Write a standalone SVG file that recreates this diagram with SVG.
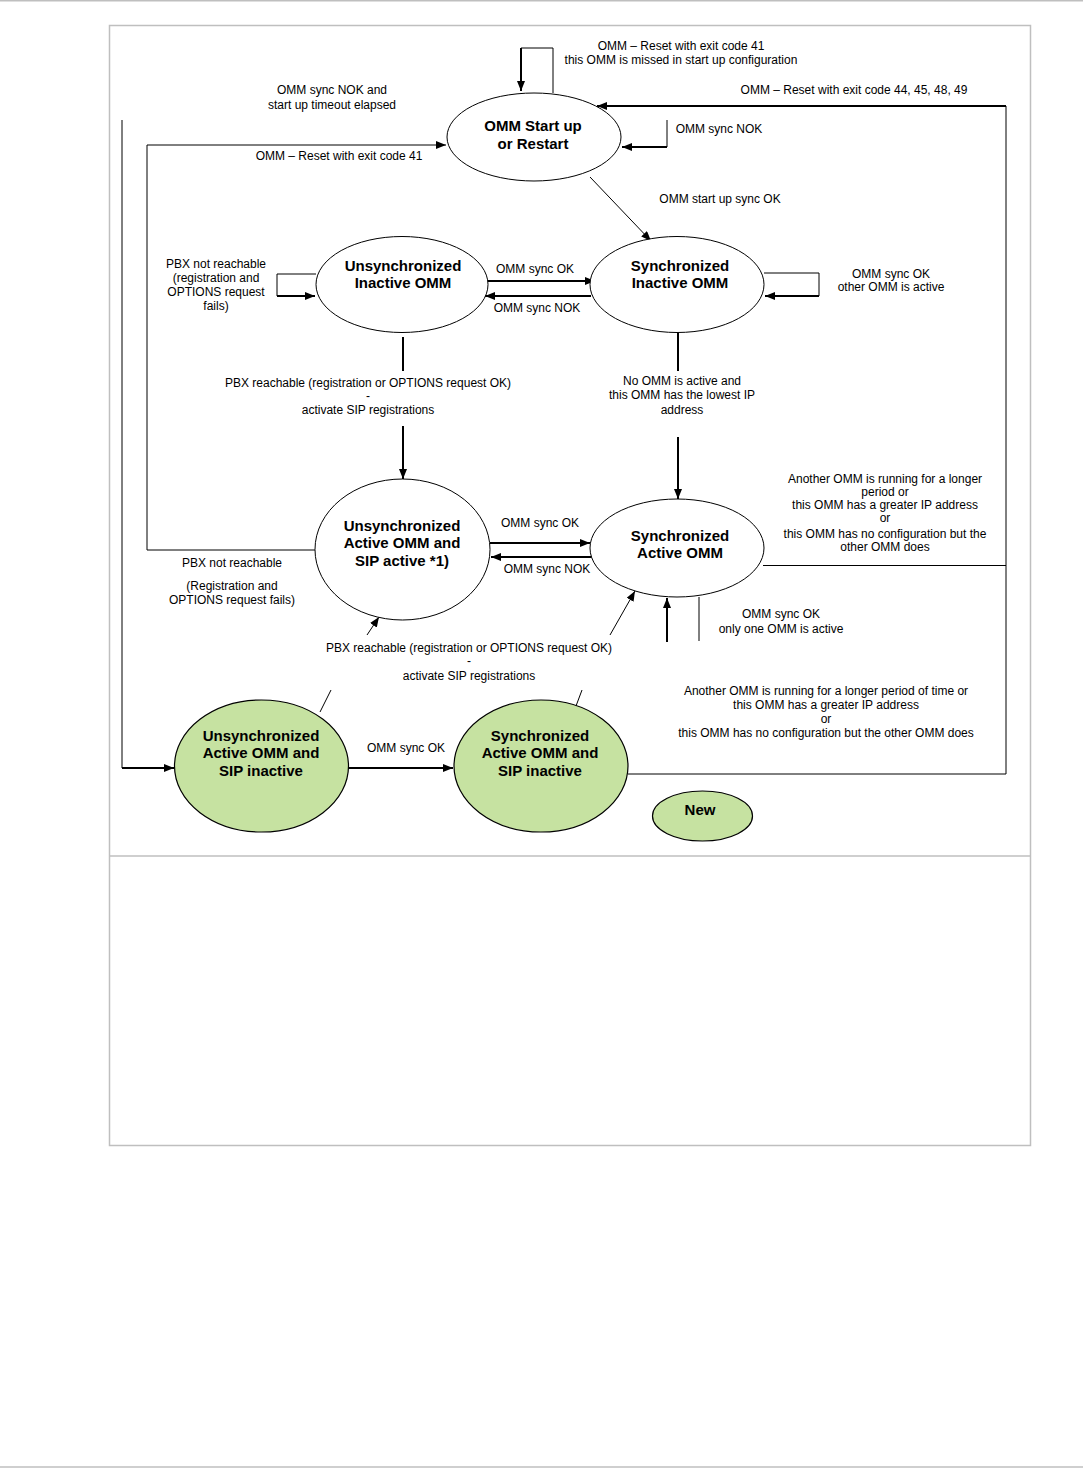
<svg xmlns="http://www.w3.org/2000/svg" width="1083" height="1468" viewBox="0 0 1083 1468">
<defs>
<marker id="ah" markerWidth="10" markerHeight="8" refX="10" refY="4" orient="auto" markerUnits="userSpaceOnUse"><path d="M0,0 L10,4 L0,8 z" fill="#000"/></marker>
<style>
.page{stroke:#bfbfbf;stroke-width:1.5;fill:none}
.st{fill:#fff;stroke:#000;stroke-width:1}
.gr{fill:#c6e2a1;stroke:#000;stroke-width:1.2}
.t{font-family:"Liberation Sans",Arial,sans-serif;font-size:12px;fill:#000;text-anchor:middle}
.b{font-family:"Liberation Sans",Arial,sans-serif;font-size:15px;font-weight:bold;fill:#000;text-anchor:middle}
.c1{fill:none;stroke:#000;stroke-width:1}
.c2{fill:none;stroke:#000;stroke-width:2}
</style>
</defs>
<rect width="1083" height="1468" fill="#fff"/>
<g id="page">
<line class="page" x1="0" y1="0.8" x2="1083" y2="0.8"/>
<line class="page" x1="0" y1="1467" x2="1083" y2="1467"/>
<rect class="page" x="109.5" y="25.5" width="921" height="1120"/>
<line class="page" x1="109.5" y1="856" x2="1030.5" y2="856"/>
</g>
<g id="connectors">
<path class="c1" d="M553,93 V48 H521"/>
<path class="c2" d="M521,48 V91" marker-end="url(#ah)"/>
<path class="c1" d="M315,550 H147 V145 H446" marker-end="url(#ah)"/>
<path class="c1" d="M122,120 V768"/>
<path class="c2" d="M122,768 H174" marker-end="url(#ah)"/>
<path class="c1" d="M628,774 H1006 V106"/>
<path class="c2" d="M1006,106 H597" marker-end="url(#ah)"/>
<path class="c1" d="M763,565.5 H1006"/>
<path class="c1" d="M667,120 V147"/>
<path class="c2" d="M667,147 H622" marker-end="url(#ah)"/>
<path class="c1" d="M590,177 L651,241" marker-end="url(#ah)"/>
<path class="c1" d="M316,274 H277 V296"/>
<path class="c2" d="M277,296 H315" marker-end="url(#ah)"/>
<path class="c2" d="M487,281 H595" marker-end="url(#ah)"/>
<path class="c2" d="M591,296 H485" marker-end="url(#ah)"/>
<path class="c2" d="M403,337 V371"/>
<path class="c2" d="M403,426 V479" marker-end="url(#ah)"/>
<path class="c1" d="M764,273 H819 V296"/>
<path class="c2" d="M819,296 H765" marker-end="url(#ah)"/>
<path class="c2" d="M678,333 V371"/>
<path class="c2" d="M678,437 V499" marker-end="url(#ah)"/>
<path class="c2" d="M490,543 H590" marker-end="url(#ah)"/>
<path class="c2" d="M599,557 H491" marker-end="url(#ah)"/>
<path class="c1" d="M367,635 L379,617" marker-end="url(#ah)"/>
<path class="c1" d="M610,635 L635,591" marker-end="url(#ah)"/>
<path class="c2" d="M667,642 V598" marker-end="url(#ah)"/>
<path class="c1" d="M699,597 V641"/>
<path class="c1" d="M320,712 L331,690"/>
<path class="c1" d="M576,706 L582,690"/>
<path class="c2" d="M348,768 H453" marker-end="url(#ah)"/>
</g>
<g id="labels">
<text class="t" x="681" y="50">OMM – Reset with exit code 41</text>
<text class="t" x="681" y="64">this OMM is missed in start up configuration</text>
<text class="t" x="332" y="94">OMM sync NOK and</text>
<text class="t" x="332" y="109">start up timeout elapsed</text>
<text class="t" x="854" y="94">OMM – Reset with exit code 44, 45, 48, 49</text>
<text class="t" x="339" y="160">OMM – Reset with exit code 41</text>
<text class="t" x="719" y="133">OMM sync NOK</text>
<text class="t" x="720" y="203">OMM start up sync OK</text>
<text class="t" x="216" y="268">PBX not reachable</text>
<text class="t" x="216" y="282">(registration and</text>
<text class="t" x="216" y="296">OPTIONS request</text>
<text class="t" x="216" y="310">fails)</text>
<text class="t" x="535" y="273">OMM sync OK</text>
<text class="t" x="537" y="312">OMM sync NOK</text>
<text class="t" x="891" y="278">OMM sync OK</text>
<text class="t" x="891" y="291">other OMM is active</text>
<text class="t" x="368" y="387">PBX reachable (registration or OPTIONS request OK)</text>
<text class="t" x="368" y="400">-</text>
<text class="t" x="368" y="414">activate SIP registrations</text>
<text class="t" x="682" y="385">No OMM is active and</text>
<text class="t" x="682" y="399">this OMM has the lowest IP</text>
<text class="t" x="682" y="414">address</text>
<text class="t" x="885" y="483">Another OMM is running for a longer</text>
<text class="t" x="885" y="496">period or</text>
<text class="t" x="885" y="509">this OMM has a greater IP address</text>
<text class="t" x="885" y="522">or</text>
<text class="t" x="885" y="538">this OMM has no configuration but the</text>
<text class="t" x="885" y="551">other OMM does</text>
<text class="t" x="540" y="527">OMM sync OK</text>
<text class="t" x="547" y="573">OMM sync NOK</text>
<text class="t" x="232" y="567">PBX not reachable</text>
<text class="t" x="232" y="590">(Registration and</text>
<text class="t" x="232" y="604">OPTIONS request fails)</text>
<text class="t" x="469" y="652">PBX reachable (registration or OPTIONS request OK)</text>
<text class="t" x="469" y="665">-</text>
<text class="t" x="469" y="680">activate SIP registrations</text>
<text class="t" x="781" y="618">OMM sync OK</text>
<text class="t" x="781" y="633">only one OMM is active</text>
<text class="t" x="826" y="695">Another OMM is running for a longer period of time or</text>
<text class="t" x="826" y="709">this OMM has a greater IP address</text>
<text class="t" x="826" y="723">or</text>
<text class="t" x="826" y="737">this OMM has no configuration but the other OMM does</text>
<text class="t" x="406" y="752">OMM sync OK</text>
</g>
<g id="n-start">
<ellipse class="st" cx="534" cy="137" rx="87" ry="44"/>
<text class="b" x="533" y="131">OMM Start up</text>
<text class="b" x="533" y="149">or Restart</text>
</g>
<g id="n-unsync-inactive">
<ellipse class="st" cx="402" cy="284.5" rx="86" ry="48"/>
<text class="b" x="403" y="271">Unsynchronized</text>
<text class="b" x="403" y="288">Inactive OMM</text>
</g>
<g id="n-sync-inactive">
<ellipse class="st" cx="677" cy="284.5" rx="87" ry="48"/>
<text class="b" x="680" y="271">Synchronized</text>
<text class="b" x="680" y="288">Inactive OMM</text>
</g>
<g id="n-unsync-active-sip">
<ellipse class="st" cx="402.5" cy="549.5" rx="87.5" ry="70.5"/>
<text class="b" x="402" y="531">Unsynchronized</text>
<text class="b" x="402" y="548">Active OMM and</text>
<text class="b" x="402" y="566">SIP active *1)</text>
</g>
<g id="n-sync-active">
<ellipse class="st" cx="677" cy="548" rx="87" ry="49"/>
<text class="b" x="680" y="541">Synchronized</text>
<text class="b" x="680" y="558">Active OMM</text>
</g>
<g id="n-unsync-active-sip-inactive">
<ellipse class="gr" cx="261.5" cy="766" rx="87" ry="66"/>
<text class="b" x="261" y="741">Unsynchronized</text>
<text class="b" x="261" y="758">Active OMM and</text>
<text class="b" x="261" y="776">SIP inactive</text>
</g>
<g id="n-sync-active-sip-inactive">
<ellipse class="gr" cx="541" cy="766" rx="87" ry="66"/>
<text class="b" x="540" y="741">Synchronized</text>
<text class="b" x="540" y="758">Active OMM and</text>
<text class="b" x="540" y="776">SIP inactive</text>
</g>
<g id="n-new">
<ellipse class="gr" cx="702.5" cy="816" rx="50" ry="25"/>
<text class="b" x="700" y="815">New</text>
</g>
</svg>
